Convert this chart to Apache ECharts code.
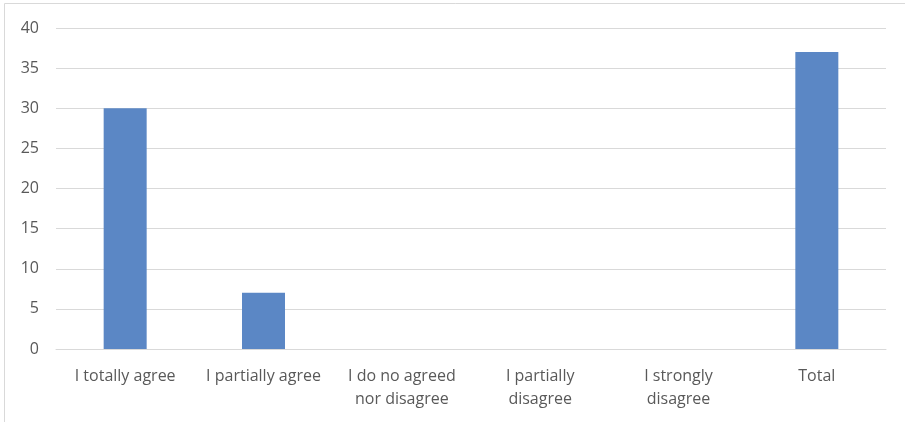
<!DOCTYPE html>
<html><head><meta charset="utf-8">
<script src="https://cdn.jsdelivr.net/npm/echarts@6/dist/echarts.min.js"></script>
<style>html,body{margin:0;padding:0;background:#fff}#c{width:905px;height:422px}</style>
</head><body><div id="c"></div>
<script>
const categories = ["I totally agree", "I partially agree", "I do no agreed\nnor disagree", "I partially\ndisagree", "I strongly\ndisagree", "Total"];
const values = [30, 7, 0, 0, 0, 37];
const yTicks = [0, 5, 10, 15, 20, 25, 30, 35, 40];

const chart = echarts.init(document.getElementById('c'));
chart.setOption({
  animation: false,
  graphic: [{type: 'rect', shape: {x: 4.5, y: 3.5, width: 910, height: 430}, style: {fill: 'none', stroke: '#d9d9d9', lineWidth: 1}}],
  grid: {left: 56, right: 19, top: 28, bottom: 73},
  xAxis: {
    type: 'category', data: categories,
    axisLine: {lineStyle: {color: '#d9d9d9'}},
    axisTick: {show: false},
    axisLabel: {color: '#595959', fontSize: 16, fontFamily: 'Open Sans, Liberation Sans, sans-serif', margin: 16, lineHeight: 23, interval: 0}
  },
  yAxis: {
    type: 'value', min: yTicks[0], max: yTicks[yTicks.length - 1], interval: 5,
    axisLine: {show: false}, axisTick: {show: false},
    splitLine: {lineStyle: {color: '#d9d9d9'}},
    axisLabel: {color: '#595959', fontSize: 16, fontFamily: 'Open Sans, Liberation Sans, sans-serif', margin: 17}
  },
  series: [{type: 'bar', data: values, barWidth: 43, itemStyle: {color: '#5b87c5'}}]
});
</script></body></html>
